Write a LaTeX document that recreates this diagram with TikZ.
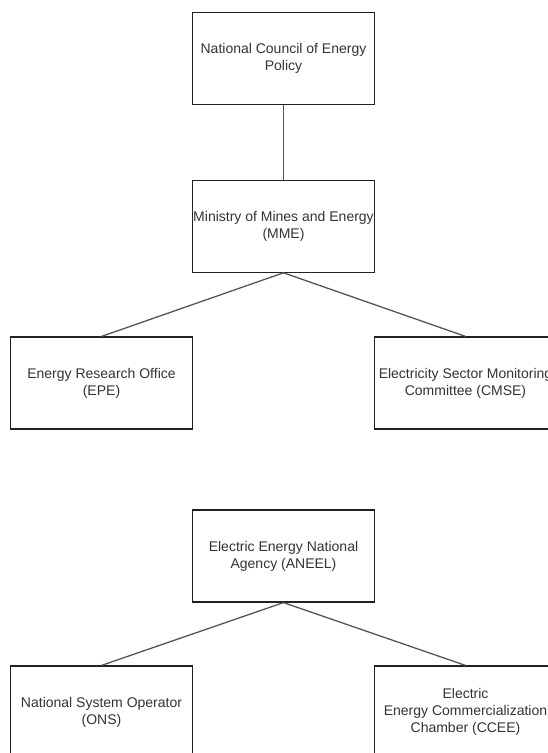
\documentclass[tikz,border=0pt]{standalone}
\usepackage{fontspec}
\setmainfont{Liberation Sans}
\definecolor{txtgray}{HTML}{333333}
\definecolor{edgegray}{HTML}{555555}
\definecolor{boxline}{HTML}{222222}
\begin{document}
\begin{tikzpicture}[x=1pt,y=-1pt,
  orgbox/.style={draw=boxline, line width=1.2pt, fill=white, minimum width=182pt, minimum height=92pt,
    inner sep=0pt, align=center, text=txtgray, font=\fontsize{14}{16.8}\selectfont},
  link/.style={draw=edgegray, line width=1.3pt}]
\clip (0,0) rectangle (548,753);
\fill[white] (0,0) rectangle (548,753);
\node[orgbox] (ncep) at (283.5,58.6) {National Council of Energy\\Policy};
\node[orgbox] (mme) at (283.5,226.2) {Ministry of Mines and Energy\\(MME)};
\node[orgbox] (epe) at (101.5,383) {Energy Research Office\\(EPE)};
\node[orgbox] (cmse) at (465.5,383) {Electricity Sector Monitoring\\Committee (CMSE)};
\node[orgbox] (aneel) at (283.5,556) {Electric Energy National\\Agency (ANEEL)};
\node[orgbox] (ons) at (101.5,712) {National System Operator\\(ONS)};
\node[orgbox] (ccee) at (465.5,712) {Electric\\Energy Commercialization\\Chamber (CCEE)};
\draw[link] (ncep.south) -- (mme.north);
\draw[link] (mme.south) -- (epe.north);
\draw[link] (mme.south) -- (cmse.north);
\draw[link] (aneel.south) -- (ons.north);
\draw[link] (aneel.south) -- (ccee.north);
\end{tikzpicture}
\end{document}
